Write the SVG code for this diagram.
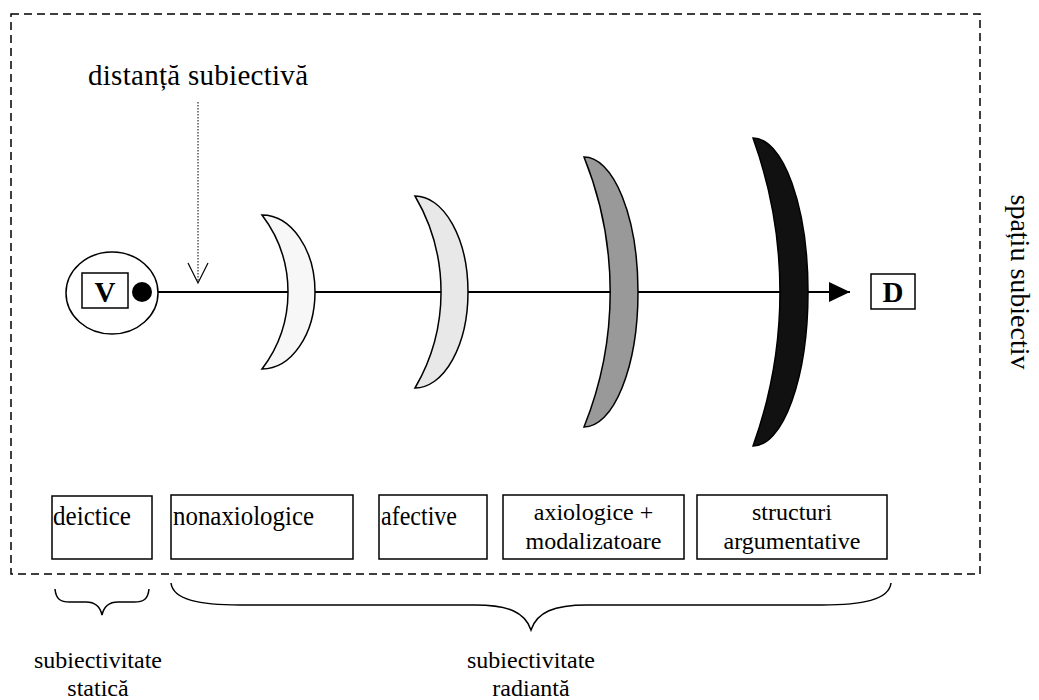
<svg xmlns="http://www.w3.org/2000/svg" width="1039" height="700" viewBox="0 0 1039 700">
<style>
text{font-family:"Liberation Serif","Times New Roman",serif;fill:#000}
.box{fill:#fff;stroke:#000;stroke-width:1.5}
.lbl{font-size:27px}
.lbl2{font-size:24px;text-anchor:middle}
.big{font-size:29px;font-weight:bold;text-anchor:middle}
.cres{stroke:#000;stroke-width:1.5}
.brace{fill:none;stroke:#000;stroke-width:1.5}
</style>
<defs>
<marker id="tri" markerWidth="22" markerHeight="20" refX="21" refY="10" orient="auto" markerUnits="userSpaceOnUse">
<path d="M0,0 L21,10 L0,20 Z" fill="#000"/>
</marker>
</defs>
<rect x="11" y="14" width="969" height="560" fill="none" stroke="#000" stroke-width="1.5" stroke-dasharray="8,5"/>
<g id="connectors">
<line x1="142" y1="292" x2="850" y2="292" stroke="#000" stroke-width="2" marker-end="url(#tri)"/>
<line x1="198" y1="102" x2="198" y2="281" stroke="#000" stroke-width="1" stroke-dasharray="1.5,1.5"/>
<polyline points="188,263 198,283 208,263" fill="none" stroke="#000" stroke-width="1.2"/>
</g>
<g id="distance-label"><text x="198" y="85" font-size="29" text-anchor="middle" textLength="220" lengthAdjust="spacing">distanță subiectivă</text></g>
<g id="node-V">
<ellipse cx="112" cy="293" rx="46" ry="41" fill="#fff" stroke="#000" stroke-width="1.5"/>
<rect class="box" x="82" y="273" width="46" height="35"/>
<text class="big" x="105" y="302">V</text>
<circle cx="142" cy="292" r="10" fill="#000"/>
</g>
<g id="node-D">
<rect class="box" x="871" y="274" width="44" height="35"/>
<text class="big" x="893" y="302">D</text>
</g>
<g id="crescent-1"><path class="cres" fill="#f7f7f7" d="M262,215 A53,77 0 0 1 262,369 A127,127 0 0 0 262,215 Z"/></g>
<g id="crescent-2"><path class="cres" fill="#e8e8e8" d="M415,196 A53,96 0 0 1 415,388 A190,190 0 0 0 415,196 Z"/></g>
<g id="crescent-3"><path class="cres" fill="#999999" d="M584,157 A54,135 0 0 1 584,427 A361,361 0 0 0 584,157 Z"/></g>
<g id="crescent-4"><path class="cres" fill="#111111" d="M753,138 A55,154 0 0 1 753,446 A453,453 0 0 0 753,138 Z"/></g>
<g id="box-deictice"><rect class="box" x="52" y="496" width="100" height="63"/><text class="lbl" x="53" y="525" textLength="78" lengthAdjust="spacingAndGlyphs">deictice</text></g>
<g id="box-nonaxiologice"><rect class="box" x="171" y="495" width="182" height="64"/><text class="lbl" x="173" y="525" textLength="141" lengthAdjust="spacingAndGlyphs">nonaxiologice</text></g>
<g id="box-afective"><rect class="box" x="379" y="495" width="108" height="64"/><text class="lbl" x="381" y="525" textLength="76" lengthAdjust="spacingAndGlyphs">afective</text></g>
<g id="box-axiologice"><rect class="box" x="503" y="495" width="181" height="64"/><text class="lbl2" x="593.5" y="520">axiologice +</text><text class="lbl2" x="593.5" y="549">modalizatoare</text></g>
<g id="box-structuri"><rect class="box" x="697" y="495" width="190" height="64"/><text class="lbl2" x="792" y="520">structuri</text><text class="lbl2" x="792" y="549">argumentative</text></g>
<g id="brace-static">
<path class="brace" d="M55,589 C56,599 60,602 70,602 L86,602 C95,602 100,606 102,615 C104,606 109,602 118,602 L134,602 C144,602 148,599 149,589"/>
<text class="lbl2" x="98" y="668">subiectivitate</text><text class="lbl2" x="98" y="696">statică</text>
</g>
<g id="brace-radiant">
<path class="brace" d="M171,583 C173,600 200,605 240,605 L475,605 C508,605 525,612 531,630 C537,612 554,605 587,605 L822,605 C862,605 889,600 891,583"/>
<text class="lbl2" x="531" y="668">subiectivitate</text><text class="lbl2" x="531" y="696">radiantă</text>
</g>
<g id="space-label"><text x="1011" y="282" font-size="28" text-anchor="middle" transform="rotate(90 1011 282)">spațiu subiectiv</text></g>
</svg>
